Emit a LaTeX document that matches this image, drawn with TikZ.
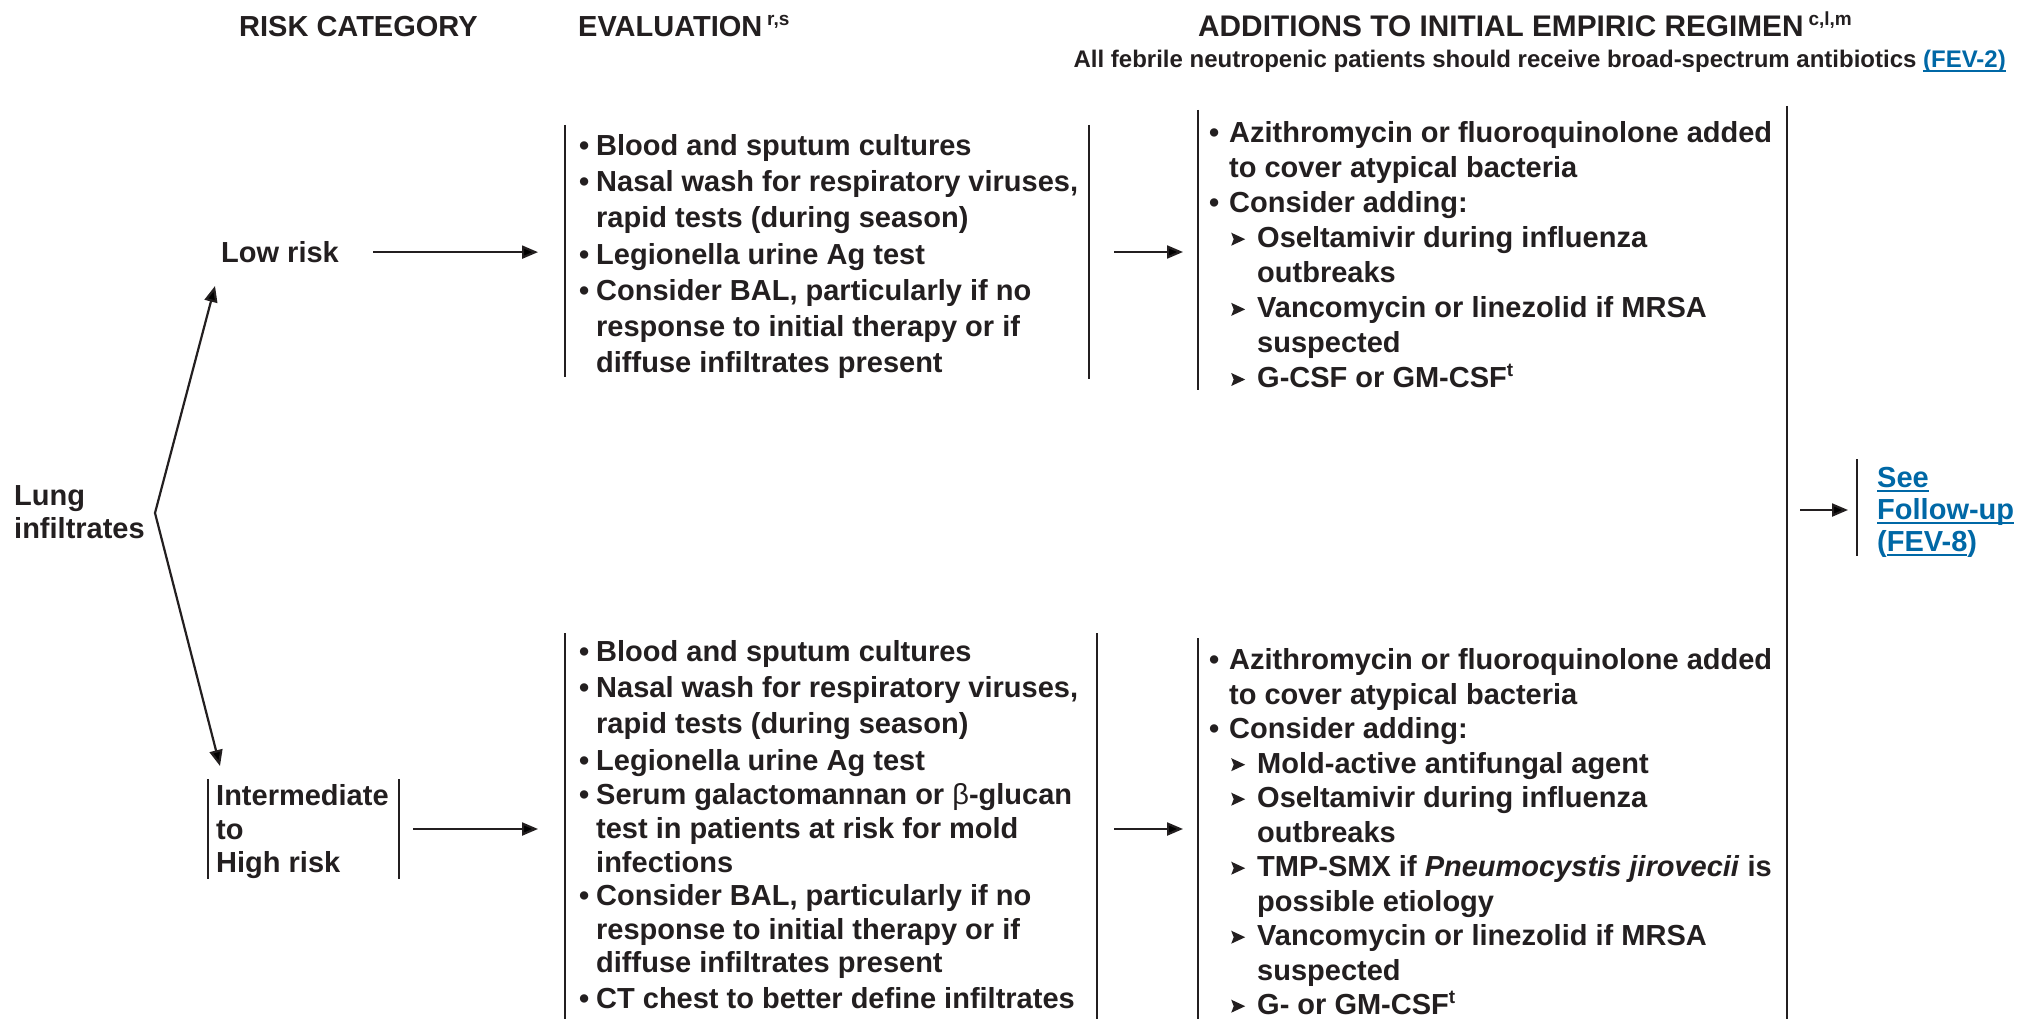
\documentclass[tikz,border=0pt]{standalone}
\usepackage{fontspec}
\setmainfont{Liberation Sans}
\usetikzlibrary{arrows.meta}
\definecolor{ink}{HTML}{231F20}
\definecolor{link}{HTML}{0068A6}
\newcommand\st{\rule{0pt}{25pt}}
\newcommand\bul{\makebox[17pt][l]{•}}
\newcommand\ind{\hspace*{17pt}}
\newcommand\abul{\makebox[20pt][l]{•}}
\newcommand\aind{\hspace*{20pt}}
\newcommand\sarr{\hspace*{20pt}\makebox[28pt][l]{\hspace*{2pt}\tikz[baseline=0pt,x=1pt,y=1pt]\fill[ink] (0,2)--(14,8.5)--(0,15)--(2.5,8.5)--cycle;}}
\newcommand\sind{\hspace*{48pt}}
\newcommand\sups[1]{\raisebox{11pt}{\fontsize{19}{19}\selectfont #1}}
\newcommand\ul[1]{\setbox0\hbox{#1}\rlap{\rule[-4pt]{\wd0}{2pt}}\box0}
\begin{document}
\begin{tikzpicture}[x=1pt,y=-1pt,
  txt/.style={inner sep=0pt, anchor=base west, text=ink, font=\fontsize{29}{36}\selectfont\bfseries},
  blk/.style={inner sep=0pt, anchor=north west, text=ink, align=left, font=\fontsize{29}{#1}\selectfont\bfseries},
  bar/.style={draw=ink, line width=2.7pt},
  arr/.style={draw=ink, line width=2.2pt, -{Triangle[length=16pt,width=13pt]}},
  biarr/.style={draw=ink, line width=2.2pt, {Triangle[length=16pt,width=13pt]}-{Triangle[length=16pt,width=13pt]}}]
\fill[white] (0,0) rectangle (2026,1019);
\useasboundingbox (0,0) rectangle (2026,1019);

% headers
\node[txt] (hrisk) at (239,36.5) {RISK CATEGORY};
\node[txt] (heval) at (578,36.5) {EVALUATION\,\sups{r,s}};
\node[txt, font=\fontsize{29.8}{36}\selectfont\bfseries] (hadd) at (1198,36.5) {ADDITIONS TO INITIAL EMPIRIC REGIMEN\,\sups{c,l,m}};
\node[txt, anchor=base east, font=\fontsize{24}{28}\selectfont\bfseries] (hsub) at (2006,67.6)
  {All febrile neutropenic patients should receive broad-spectrum antibiotics {\color{link}\ul{(FEV-2)}}};

% left column
\node[blk=33] (lung) at (14,480.5) {\st Lung\\infiltrates};
\node[txt] (low) at (221,262.5) {Low risk};
\node[blk=33.4] (inter) at (216,780.5) {\st Intermediate\\to\\High risk};

% evaluation
\node[blk=36.1] (evlow) at (579,130.5) {\st\bul Blood and sputum cultures\\
\bul Nasal wash for respiratory viruses,\\
\ind rapid tests (during season)\\
\bul Legionella urine Ag test\\
\bul Consider BAL, particularly if no\\
\ind response to initial therapy or if\\
\ind diffuse infiltrates present};

\node[blk=33.6] (evhi) at (579,636.5) {\st\bul Blood and sputum cultures\\[2.5pt]
\bul Nasal wash for respiratory viruses,\\[2.5pt]
\ind rapid tests (during season)\\[2.5pt]
\bul Legionella urine Ag test\\[1.3pt]
\bul Serum galactomannan or {\mdseries β}-glucan\\
\ind test in patients at risk for mold\\
\ind infections\\
\bul Consider BAL, particularly if no\\
\ind response to initial therapy or if\\
\ind diffuse infiltrates present\\[2pt]
\bul CT chest to better define infiltrates};

% additions
\node[blk=35.07] (adlow) at (1209,117.3) {\st\abul Azithromycin or fluoroquinolone added\\
\aind to cover atypical bacteria\\
\abul Consider adding:\\
\sarr Oseltamivir during influenza\\
\sind outbreaks\\
\sarr Vancomycin or linezolid if MRSA\\
\sind suspected\\
\sarr G-CSF or GM-CSF\sups{t}};

\node[blk=34.5] (adhi) at (1209,644.5) {\st\abul Azithromycin or fluoroquinolone added\\
\aind to cover atypical bacteria\\
\abul Consider adding:\\
\sarr Mold-active antifungal agent\\
\sarr Oseltamivir during influenza\\
\sind outbreaks\\
\sarr TMP-SMX if \textit{Pneumocystis jirovecii} is\\
\sind possible etiology\\
\sarr Vancomycin or linezolid if MRSA\\
\sind suspected\\
\sarr G- or GM-CSF\sups{t}};

% follow-up
\node[blk=32, text=link] (fup) at (1877,462.5) {\st\ul{See}\\ \ul{Follow-up}\\ (\ul{FEV-8})};

% bars
\draw[bar] (208,779) -- (208,879);
\draw[bar] (399,779) -- (399,879);
\draw[bar] (565,125) -- (565,377);
\draw[bar] (1089,125) -- (1089,379);
\draw[bar] (1198,110) -- (1198,390);
\draw[bar] (565,633) -- (565,1019);
\draw[bar] (1097,633) -- (1097,1019);
\draw[bar] (1198,638) -- (1198,1019);
\draw[bar] (1787,106) -- (1787,1019);
\draw[bar] (1857,459) -- (1857,556);

% connector anchors
\coordinate (vtx) at (155,513);
\coordinate (tipL) at (215,286);
\coordinate (tipH) at (220,766);
\coordinate (evlowL) at (565,252);
\coordinate (evlowR) at (1089,252);
\coordinate (adlowL) at (1198,252);
\coordinate (interR) at (399,829);
\coordinate (evhiL) at (565,829);
\coordinate (evhiR) at (1097,829);
\coordinate (adhiL) at (1198,829);
\coordinate (longR) at (1787,510);
\coordinate (fupL) at (1857,510);

% connectors
\draw[biarr] (tipL) -- (vtx) -- (tipH);
\draw[arr, shorten <=34pt, shorten >=27pt] (low.east) -- (low.east -| evlowL);
\draw[arr, shorten <=25pt, shorten >=15pt] (evlowR) -- (adlowL);
\draw[arr, shorten <=14pt, shorten >=27pt] (interR) -- (evhiL);
\draw[arr, shorten <=17pt, shorten >=15pt] (evhiR) -- (adhiL);
\draw[arr, shorten <=13pt, shorten >=9pt] (longR) -- (fupL);
\end{tikzpicture}
\end{document}
